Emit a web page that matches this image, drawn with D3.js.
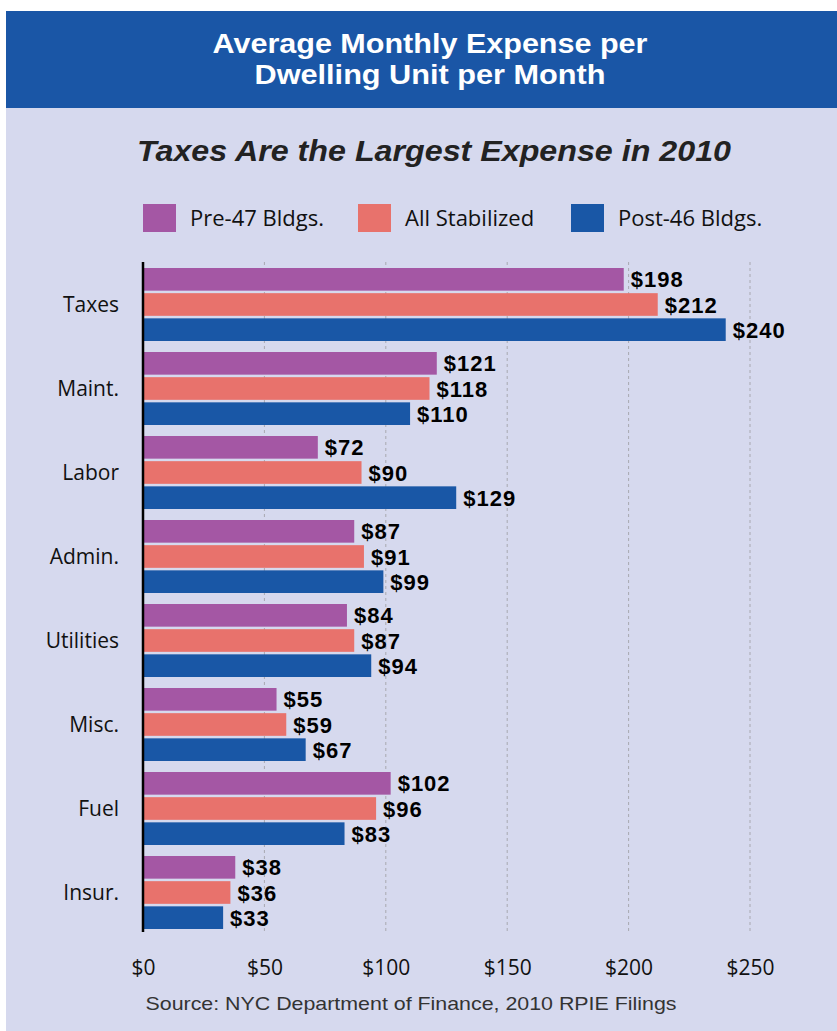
<!DOCTYPE html>
<html>
<head>
<meta charset="utf-8">
<script src="https://cdn.jsdelivr.net/npm/d3@7/dist/d3.min.js"></script>
<style>
  html, body { margin: 0; padding: 0; background: #ffffff; }
  svg { display: block; }
</style>
</head>
<body>
<script>
// ---- Data ----
const categories = ["Taxes", "Maint.", "Labor", "Admin.", "Utilities", "Misc.", "Fuel", "Insur."];
const seriesNames = ["Pre-47 Bldgs.", "All Stabilized", "Post-46 Bldgs."];
const pre47 = [198, 121, 72, 87, 84, 55, 102, 38];
const allStabilized = [212, 118, 90, 91, 87, 59, 96, 36];
const post46 = [240, 110, 129, 99, 94, 67, 83, 33];
const tickValues = [0, 50, 100, 150, 200, 250];
const titleLines = ["Average Monthly Expense per", "Dwelling Unit per Month"];
const subtitle = "Taxes Are the Largest Expense in 2010";
const sourceText = "Source: NYC Department of Finance, 2010 RPIE Filings";

const seriesValues = [pre47, allStabilized, post46];
const colors = ["#A457A4", "#E8726C", "#1957A6"];

const W = 837, H = 1031;
const svg = d3.select("body").append("svg").attr("width", W).attr("height", H);

// backgrounds
svg.append("rect").attr("x", 6).attr("y", 11).attr("width", W - 6).attr("height", H - 11).attr("fill", "#D6D9EE");
svg.append("rect").attr("x", 6).attr("y", 11).attr("width", W - 6).attr("height", 97).attr("fill", "#1A56A6");

// header
const hdr = svg.append("g").attr("font-family", "'Liberation Sans', Arial, sans-serif")
  .attr("font-weight", "bold").attr("fill", "#ffffff").attr("text-anchor", "middle");
hdr.append("text").attr("x", 430).attr("y", 53).attr("font-size", 28)
  .attr("textLength", 435).attr("lengthAdjust", "spacingAndGlyphs").text(titleLines[0]);
hdr.append("text").attr("x", 430).attr("y", 84).attr("font-size", 28)
  .attr("textLength", 351).attr("lengthAdjust", "spacingAndGlyphs").text(titleLines[1]);

// subtitle
svg.append("text").attr("x", 434).attr("y", 161)
  .attr("font-family", "'Liberation Sans', Arial, sans-serif")
  .attr("font-weight", "bold").attr("font-style", "italic").attr("font-size", 29)
  .attr("fill", "#222").attr("text-anchor", "middle")
  .attr("textLength", 594).attr("lengthAdjust", "spacingAndGlyphs")
  .text(subtitle);

// legend
const legendX = [143, 358, 571];
const lg = svg.append("g").attr("font-family", "'Open Sans', sans-serif").attr("font-size", 22);
seriesNames.forEach((n, i) => {
  lg.append("rect").attr("x", legendX[i]).attr("y", 204).attr("width", 33).attr("height", 28).attr("fill", colors[i]);
  lg.append("text").attr("x", legendX[i] + 47).attr("y", 226).attr("fill", "#111").text(n);
});

// scales
const x = d3.scaleLinear().domain([0, 250]).range([143, 750]);
const y = d3.scaleBand().domain(categories).range([268, 929]).paddingInner(11 / 84).paddingOuter(0);
const yi = d3.scaleBand().domain(d3.range(3)).range([0, y.bandwidth()]).paddingInner(0.1);

// gridlines
svg.append("g").selectAll("line").data(tickValues.filter(d => d > 0)).join("line")
  .attr("x1", d => x(d)).attr("x2", d => x(d))
  .attr("y1", 262).attr("y2", 932)
  .attr("stroke", "#a8a8b0").attr("stroke-width", 1).attr("stroke-dasharray", "3,3");

// bars
const groups = svg.append("g").selectAll("g").data(categories).join("g")
  .attr("transform", d => `translate(0,${y(d)})`);

groups.each(function (cat, ci) {
  const g = d3.select(this);
  seriesValues.forEach((vals, si) => {
    g.append("rect")
      .attr("x", x(0)).attr("y", yi(si))
      .attr("width", x(vals[ci]) - x(0)).attr("height", yi.bandwidth())
      .attr("fill", colors[si]);
  });
});

// value labels (drawn after bars so they sit on top)
groups.each(function (cat, ci) {
  const g = d3.select(this);
  seriesValues.forEach((vals, si) => {
    g.append("text")
      .attr("x", x(vals[ci]) + 7)
      .attr("y", yi(si) + yi.bandwidth() / 2 + 8)
      .attr("font-family", "'Liberation Sans', Arial, sans-serif")
      .attr("font-weight", "bold").attr("font-size", 22).attr("letter-spacing", 1)
      .attr("fill", "#000")
      .text("$" + vals[ci]);
  });
});

// category labels
svg.append("g").selectAll("text").data(categories).join("text")
  .attr("x", 119).attr("y", d => y(d) + y.bandwidth() / 2 + 7)
  .attr("text-anchor", "end")
  .attr("font-family", "'Open Sans', sans-serif").attr("font-size", 21).attr("fill", "#111")
  .text(d => d);

// axis line
svg.append("line").attr("x1", x(0)).attr("x2", x(0)).attr("y1", 262).attr("y2", 932)
  .attr("stroke", "#000").attr("stroke-width", 2.5);

// x axis tick labels
const xAxis = d3.axisBottom(x).tickValues(tickValues).tickSize(0).tickPadding(0).tickFormat(d => "$" + d);
const ax = svg.append("g").attr("transform", "translate(0,959)").call(xAxis);
ax.select(".domain").remove();
ax.selectAll("text").attr("font-family", "'Open Sans', sans-serif").attr("font-size", 21)
  .attr("fill", "#111").attr("dy", "0.75em");

// source
svg.append("text").attr("x", 411).attr("y", 1010)
  .attr("font-family", "'Liberation Sans', Arial, sans-serif").attr("font-size", 19)
  .attr("fill", "#333").attr("text-anchor", "middle")
  .attr("textLength", 531).attr("lengthAdjust", "spacingAndGlyphs")
  .text(sourceText);
</script>
</body>
</html>
